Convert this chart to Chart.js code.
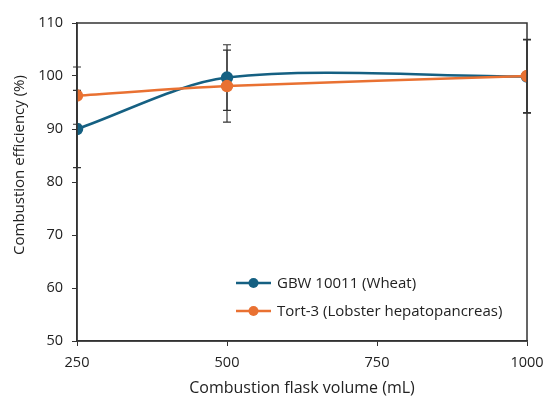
<!DOCTYPE html>
<html>
<head>
<meta charset="utf-8">
<script src="https://cdn.jsdelivr.net/npm/chart.js@4"></script>
<style>
  html, body { margin: 0; padding: 0; background: #fff; }
  #wrap { width: 543px; height: 398px; }
</style>
</head>
<body>
<div id="wrap"><canvas id="chart"></canvas></div>
<script>
// ----- DATA -----
const volumes = [250, 500, 1000];
const xTicks = [250, 500, 750, 1000];

const wheatLabel = "GBW 10011 (Wheat)";
const wheatValues = [90.0, 99.7, 99.9];
const wheatErrors = [7.3, 6.2, 6.9];

const lobsterLabel = "Tort-3 (Lobster hepatopancreas)";
const lobsterValues = [96.3, 98.1, 100.0];
const lobsterErrors = [5.4, 6.8, 6.9];

const yTitle = "Combustion efficiency (%)";
const xTitle = "Combustion flask volume (mL)";

const BLUE = "#156082";
const ORANGE = "#E97132";
const INK = "#222";
const FONT = "'Open Sans', 'Noto Sans', sans-serif";

function points(vals) {
  return volumes.map((v, i) => ({ x: v, y: vals[i] }));
}

// error bars drawn under the markers
const errorBars = {
  id: "errorBars",
  beforeDatasetsDraw(chart) {
    const ctx = chart.ctx;
    const xs = chart.scales.x, ys = chart.scales.y;
    ctx.save();
    ctx.strokeStyle = "#333";
    ctx.lineWidth = 1.2;
    chart.data.datasets.forEach(ds => {
      ds.data.forEach((p, i) => {
        const e = ds.errors[i];
        const px = xs.getPixelForValue(p.x);
        const top = ys.getPixelForValue(p.y + e);
        const bot = ys.getPixelForValue(p.y - e);
        ctx.beginPath();
        ctx.moveTo(px, top); ctx.lineTo(px, bot);
        ctx.moveTo(px - 4, top); ctx.lineTo(px + 4, top);
        ctx.moveTo(px - 4, bot); ctx.lineTo(px + 4, bot);
        ctx.stroke();
      });
    });
    ctx.restore();
  }
};

// plot frame, y title and legend inside the plot area
const frameAndLegend = {
  id: "frameAndLegend",
  afterDraw(chart) {
    const ctx = chart.ctx;
    const a = chart.chartArea;
    ctx.save();
    ctx.strokeStyle = "#333";
    ctx.lineWidth = 1.5;
    ctx.strokeRect(a.left, a.top, a.right - a.left, a.bottom - a.top);

    // y axis title
    ctx.save();
    ctx.translate(20, 165);
    ctx.rotate(-Math.PI / 2);
    ctx.font = "15px " + FONT;
    ctx.fillStyle = INK;
    ctx.textAlign = "center";
    ctx.textBaseline = "middle";
    ctx.fillText(yTitle, 0, 0);
    ctx.restore();

    const rows = [
      { label: wheatLabel, color: BLUE, y: 283 },
      { label: lobsterLabel, color: ORANGE, y: 311 }
    ];
    ctx.font = "15px " + FONT;
    ctx.textBaseline = "middle";
    rows.forEach(r => {
      ctx.strokeStyle = r.color;
      ctx.lineWidth = 2.5;
      ctx.beginPath();
      ctx.moveTo(236, r.y); ctx.lineTo(271, r.y);
      ctx.stroke();
      ctx.fillStyle = r.color;
      ctx.beginPath();
      ctx.arc(253.5, r.y, 5, 0, Math.PI * 2);
      ctx.fill();
      ctx.fillStyle = INK;
      ctx.fillText(r.label, 277, r.y + 1);
    });
    ctx.restore();
  }
};

new Chart(document.getElementById("chart"), {
  type: "line",
  data: {
    datasets: [
      {
        label: wheatLabel,
        data: points(wheatValues),
        errors: wheatErrors,
        borderColor: BLUE,
        backgroundColor: BLUE,
        borderWidth: 2.5,
        pointRadius: 5,
        pointHoverRadius: 5,
        tension: 0.3,
        order: 1
      },
      {
        label: lobsterLabel,
        data: points(lobsterValues),
        errors: lobsterErrors,
        borderColor: ORANGE,
        backgroundColor: ORANGE,
        borderWidth: 2.5,
        pointRadius: 5,
        pointHoverRadius: 5,
        tension: 0.3,
        order: 0
      }
    ]
  },
  options: {
    responsive: true,
    maintainAspectRatio: false,
    animation: false,
    layout: { padding: { left: 0, right: 16, top: 23, bottom: 0 } },
    plugins: {
      legend: { display: false },
      tooltip: { enabled: false }
    },
    scales: {
      x: {
        type: "linear",
        min: 250,
        max: 1000,
        afterBuildTicks: s => { s.ticks = xTicks.map(v => ({ value: v })); },
        afterFit: s => { s.height = 57; s.paddingLeft = 0; s.paddingRight = 0; },
        grid: { drawOnChartArea: false, drawTicks: true, tickLength: 5, color: "#333" },
        border: { color: "#333", width: 1.5 },
        ticks: {
          color: INK,
          font: { family: FONT, size: 14.5 },
          padding: 8,
          maxRotation: 0,
          callback: v => String(v)
        },
        title: {
          display: true,
          text: xTitle,
          color: INK,
          font: { family: FONT, size: 16 },
          padding: { top: 2, bottom: 0 }
        }
      },
      y: {
        min: 50,
        max: 110,
        afterFit: s => { s.width = 77; s.paddingTop = 0; s.paddingBottom = 0; },
        grid: { drawOnChartArea: false, drawTicks: true, tickLength: 5, color: "#333" },
        border: { color: "#333", width: 1.5 },
        ticks: { stepSize: 10, color: INK, font: { family: FONT, size: 14.5 }, padding: 9 }
      }
    }
  },
  plugins: [errorBars, frameAndLegend]
});
</script>
</body>
</html>
